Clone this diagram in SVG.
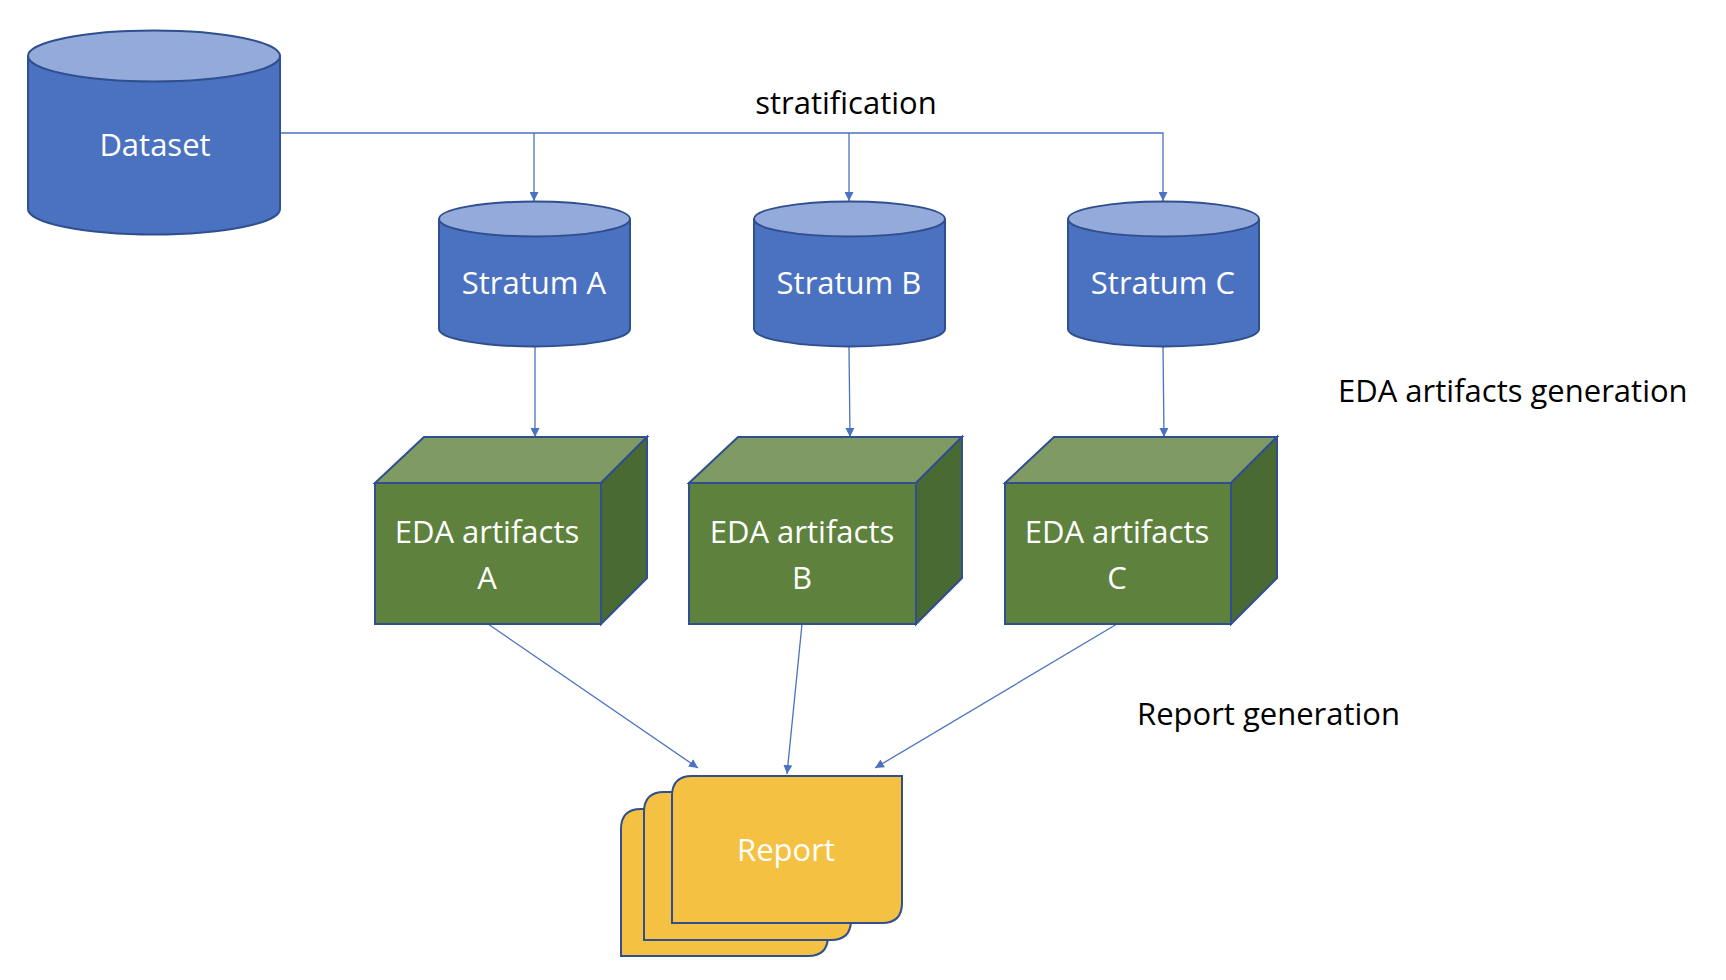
<svg xmlns="http://www.w3.org/2000/svg" width="1726" height="980" viewBox="0 0 1726 980">
<defs>
<style>
.cb{fill:#4a72c0;stroke:#2f4f8f;stroke-width:2}
.ct{fill:#93aadb;stroke:#2f4f8f;stroke-width:2}
.wt{font-family:"Open Sans","Liberation Sans",sans-serif;font-size:31px;fill:#fff;text-anchor:middle}
.bt{font-family:"Open Sans","Liberation Sans",sans-serif;font-size:31px;fill:#000}
.cf{fill:#5e823e;stroke:#2f4f8f;stroke-width:2}
.ctp{fill:#7f9a62;stroke:#2f4f8f;stroke-width:2}
.cs{fill:#4a6a33;stroke:#2f4f8f;stroke-width:2}
.doc{fill:#f4c142;stroke:#2f4f8f;stroke-width:2}
.ln{fill:none;stroke:#4a72c0;stroke-width:1.3;marker-end:url(#ah)}
</style>
<marker id="ah" viewBox="0 0 10 10" refX="10" refY="5" markerWidth="9" markerHeight="9" markerUnits="userSpaceOnUse" orient="auto"><path d="M0,0L10,5L0,10z" fill="#4a72c0"/></marker>
</defs>
<g id="connectors">
<path class="ln" d="M280,133H1163V201"/>
<path class="ln" d="M534,133V201"/>
<path class="ln" d="M849,133V201"/>
<path class="ln" d="M535,346V437"/>
<path class="ln" d="M849,346L850,437"/>
<path class="ln" d="M1163,346L1164,437"/>
<path class="ln" d="M488,624L698,768"/>
<path class="ln" d="M802,624L787,774"/>
<path class="ln" d="M1117,624L875,768"/>
</g>
<g id="dataset">
<path class="cb" d="M28,56V209A126,25.5 0 0 0 280,209V56"/>
<ellipse class="ct" cx="154" cy="56" rx="126" ry="25.5"/>
<text class="wt" x="155" y="156">Dataset</text>
</g>
<g id="stratumA">
<path class="cb" d="M439,219V329A95.5,17.5 0 0 0 630,329V219"/>
<ellipse class="ct" cx="534.5" cy="219" rx="95.5" ry="17.5"/>
<text class="wt" x="534" y="294">Stratum A</text>
</g>
<g id="stratumB">
<path class="cb" d="M754,219V329A95.5,17.5 0 0 0 945,329V219"/>
<ellipse class="ct" cx="849.5" cy="219" rx="95.5" ry="17.5"/>
<text class="wt" x="849" y="294">Stratum B</text>
</g>
<g id="stratumC">
<path class="cb" d="M1068,219V329A95.5,17.5 0 0 0 1259,329V219"/>
<ellipse class="ct" cx="1163.5" cy="219" rx="95.5" ry="17.5"/>
<text class="wt" x="1163" y="294">Stratum C</text>
</g>
<g id="edaA">
<rect class="cf" x="375" y="483" width="226" height="141"/>
<path class="ctp" d="M375,483L424,437H647L601,483Z"/>
<path class="cs" d="M601,483L647,437V578L601,624Z"/>
<text class="wt" x="487" y="543">EDA artifacts</text>
<text class="wt" x="487" y="589">A</text>
</g>
<g id="edaB">
<rect class="cf" x="689" y="483" width="227" height="141"/>
<path class="ctp" d="M689,483L738,437H962L916,483Z"/>
<path class="cs" d="M916,483L962,437V578L916,624Z"/>
<text class="wt" x="802" y="543">EDA artifacts</text>
<text class="wt" x="802" y="589">B</text>
</g>
<g id="edaC">
<rect class="cf" x="1005" y="483" width="226" height="141"/>
<path class="ctp" d="M1005,483L1054,437H1277L1231,483Z"/>
<path class="cs" d="M1231,483L1277,437V578L1231,624Z"/>
<text class="wt" x="1117" y="543">EDA artifacts</text>
<text class="wt" x="1117" y="589">C</text>
</g>
<g id="report">
<path class="doc" d="M621,956V829Q621,809 641,809H828V936Q828,956 808,956Z"/>
<path class="doc" d="M644,940V812Q644,792 664,792H851V920Q851,940 831,940Z"/>
<path class="doc" d="M672,923V796Q672,776 692,776H902V903Q902,923 882,923Z"/>
<text class="wt" x="786" y="861">Report</text>
</g>
<g id="labels">
<text class="bt" x="846" y="114" text-anchor="middle">stratification</text>
<text class="bt" x="1338" y="402">EDA artifacts generation</text>
<text class="bt" x="1137" y="725">Report generation</text>
</g>
</svg>
